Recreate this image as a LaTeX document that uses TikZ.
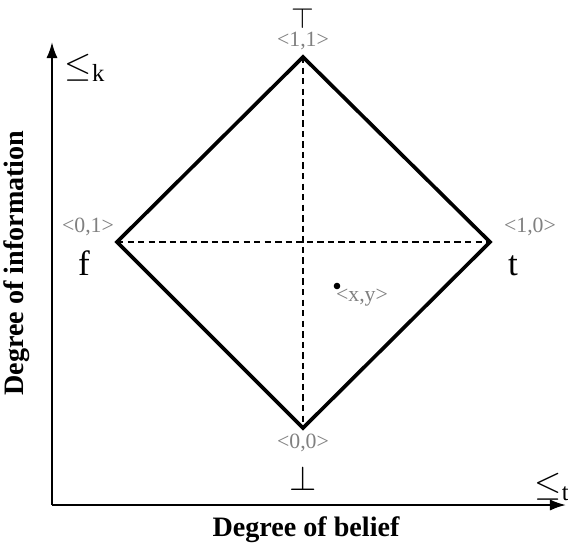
\documentclass[tikz,border=0pt]{standalone}
\usepackage{fontspec}
\setmainfont{Liberation Serif}
\usepackage{xcolor}
\usepackage{tikz}
\usetikzlibrary{arrows.meta,positioning,calc}
\definecolor{PairGray}{RGB}{128,128,128}
\tikzset{
    edge/.style={line width=2.6pt, line join=miter},
    diag/.style={dash pattern=on 4.5pt off 3pt, line width=1.3pt},
    axis/.style={-{Latex[length=4mm, width=2.8mm]}, line width=1.5pt},
    pair/.style={text=PairGray, font=\fontsize{15.5}{17}\selectfont, inner sep=1pt},
    vlabel/.style={font=\fontsize{25}{27}\selectfont, inner sep=1pt},
    axlabel/.style={font=\fontsize{20}{22}\selectfont\bfseries, inner sep=1pt},
}
\begin{document}
\begin{tikzpicture}[x=0.025cm, y=-0.025cm]
\useasboundingbox (0,0) rectangle (568,548);
% corners of the bilattice
\coordinate (top) at (303,57);
\coordinate (left) at (117,242);
\coordinate (right) at (490,242);
\coordinate (bot) at (303,428);
\coordinate (origin) at (52,505);
\coordinate (ktip) at (52,42);
\coordinate (ttip) at (566,505);

\draw[axis] (origin) -- (ktip);
\draw[axis] (origin) -- (ttip);
\draw[diag] (top) -- (bot);
\draw[diag] (left) -- (right);
\draw[edge] (top) -- (right) -- (bot) -- (left) -- cycle;

\node[vlabel, font=\fontsize{22}{24}\selectfont, inner sep=0pt, anchor=base] (topsym) at (303,28) {$\top$};
\node[pair] (p11) at (303,41) {<1,1>};
\node[pair] (p01) at (88,227) {<0,1>};
\node[vlabel] (fval) at (84,263) {f};
\node[pair] (p10) at (530,227) {<1,0>};
\node[vlabel] (tval) at (513,266) {t};
\node[pair] (p00) at (303,443) {<0,0>};
\node[vlabel] (botsym) at (303,478) {$\bot$};
\fill (337,286) circle (3.3);
\node[pair] (pxy) at (362,298) {<x,y>};

\node[vlabel] (kord) at (85,68) {$\leq_{\mathrm{k}}$};
\node[vlabel, inner sep=0pt] (tord) at (552,487) {$\leq_{\mathrm{t}}$};
\node[axlabel] (belief) at (306,530) {Degree of belief};
\node[axlabel, rotate=90] (info) at (17,263) {Degree of information};
\end{tikzpicture}
\end{document}
